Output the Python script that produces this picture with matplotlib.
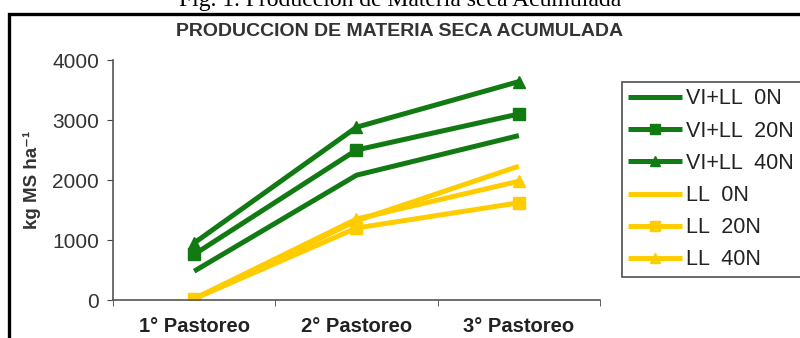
import matplotlib
matplotlib.use("Agg")
import matplotlib.pyplot as plt
from matplotlib.patches import Rectangle

# datos (kg MS/ha acumulado)
pastoreos = ["1° Pastoreo", "2° Pastoreo", "3° Pastoreo"]
vi_ll_0n = [480, 2080, 2740]
vi_ll_20n = [760, 2500, 3100]
vi_ll_40n = [950, 2880, 3640]
ll_0n = [20, 1320, 2230]
ll_20n = [20, 1200, 1620]
ll_40n = [20, 1350, 1980]

series = [
    ("VI+LL  0N", vi_ll_0n),
    ("VI+LL  20N", vi_ll_20n),
    ("VI+LL  40N", vi_ll_40n),
    ("LL  0N", ll_0n),
    ("LL  20N", ll_20n),
    ("LL  40N", ll_40n),
]
verde = "#127a12"
amarillo = "#ffcc00"
colores = [verde, verde, verde, amarillo, amarillo, amarillo]
marcadores = [None, "s", "^", None, "s", "^"]

plt.rcParams["font.family"] = ["Liberation Sans", "DejaVu Sans"]

fig = plt.figure(figsize=(8, 3.38), dpi=100)
ax = fig.add_axes([113 / 800, 1 - 300 / 338, 487 / 800, 240 / 338])

x = list(range(len(pastoreos)))
for (nombre, valores), c, m in zip(series, colores, marcadores):
    ax.plot(x, valores, color=c, lw=3.6, marker=m, markersize=9,
            label=nombre, solid_capstyle="butt")

ax.set_xlim(-0.5, 2.5)
ax.set_ylim(0, 4000)
ax.set_yticks([0, 1000, 2000, 3000, 4000])
ax.set_xticks(x)
ax.set_xticklabels(pastoreos, fontweight="bold", fontsize=14.5, color="#222222")
ax.set_xticks([-0.5, 0.5, 1.5, 2.5], minor=True)
ax.tick_params(axis="x", which="major", length=0, pad=12)
ax.tick_params(axis="x", which="minor", length=4, color="#444444", direction="out")
ax.tick_params(axis="y", length=4, color="#444444", labelsize=15,
               labelcolor="#333333", pad=6)
for lado in ["top", "right"]:
    ax.spines[lado].set_visible(False)
for lado in ["left", "bottom"]:
    ax.spines[lado].set_color("#555555")
    ax.spines[lado].set_linewidth(1.2)

ax.set_ylabel("kg MS ha⁻¹", fontsize=13.5, fontweight="bold", color="#333333",
              labelpad=8)

fig.text(0.5, 1 - 36 / 338, "PRODUCCION DE MATERIA SECA ACUMULADA",
         ha="center", va="baseline", fontsize=14, fontweight="bold", color="#333333")
fig.text(0.5, 1 - 6 / 338, "Fig. 1. Producción de Materia seca Acumulada",
         ha="center", va="baseline", fontsize=17,
         family=["Liberation Serif", "DejaVu Serif"])

leg = fig.legend(loc="upper left",
                 bbox_to_anchor=(622 / 800, 1 - 278 / 338, 200 / 800, 196 / 338),
                 mode="expand", fontsize=15.5, frameon=True, fancybox=False,
                 handlelength=2.5, labelspacing=0.52, borderpad=0.3,
                 handletextpad=0.15, markerscale=0.8, borderaxespad=0)
leg.get_frame().set_edgecolor("#222222")
leg.get_frame().set_linewidth(1.2)
for t in leg.get_texts():
    t.set_color("#222222")

# marco negro de la figura original
fig.patches.append(Rectangle((9 / 800, -0.2), 1.2, 1.2 - 14 / 338,
                             transform=fig.transFigure, fill=False,
                             edgecolor="black", lw=2.4))

fig.savefig("out.png", dpi=100)
